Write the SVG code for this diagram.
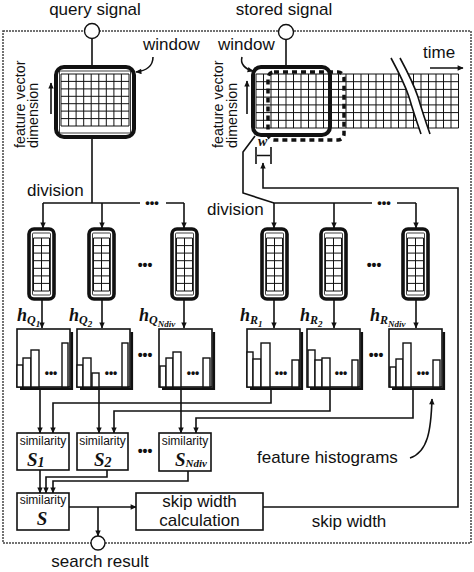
<svg xmlns="http://www.w3.org/2000/svg" xmlns:xlink="http://www.w3.org/1999/xlink" width="474" height="572" viewBox="0 0 474 572">
<style>
.lbl{font-family:"Liberation Sans",Arial,sans-serif;font-size:17px;fill:#111}
.fv{font-family:"Liberation Sans",Arial,sans-serif;font-size:14.3px;fill:#111}
.sim{font-family:"Liberation Sans",Arial,sans-serif;font-size:12px;fill:#111}
.ser{font-family:"Liberation Serif","Times New Roman",serif;font-weight:bold;font-style:italic;fill:#111}
.dots{font-family:"Liberation Sans",Arial,sans-serif;font-weight:bold;fill:#111}
.ln{fill:none;stroke:#111;stroke-width:1.6}
.box{fill:#fff;stroke:#111;stroke-width:1.6}
.grid{fill:none;stroke:#111;stroke-width:1}
.bar{fill:#fff;stroke:#111;stroke-width:1.4}
.shadow{fill:none;stroke:#111;stroke-width:2.6}
.frame{fill:none;stroke:#444;stroke-width:1.5;stroke-dasharray:2 1}
.port{fill:#fff;stroke:#111;stroke-width:1.4}
</style>
<defs>
<marker id="ah" viewBox="0 0 10 10" refX="9" refY="5" markerWidth="7" markerHeight="6" orient="auto" markerUnits="userSpaceOnUse"><path d="M0,0.5 L10,5 L0,9.5 z" fill="#111"/></marker>
<g id="strip">
<rect x="0" y="229" width="25" height="70" rx="5" fill="#fff" stroke="#111" stroke-width="3.6"/>
<rect x="3.5" y="233" width="18" height="62" rx="1" fill="none" stroke="#111" stroke-width="0.8"/>
<path class="grid" d="M4.5,238V291M12.5,238V291M20.5,238V291M4.5,238H20.5M4.5,245.6H20.5M4.5,253.1H20.5M4.5,260.7H20.5M4.5,268.3H20.5M4.5,275.9H20.5M4.5,283.4H20.5M4.5,291H20.5"/>
</g>
<g id="hbox">
<rect class="box" x="0" y="329" width="53" height="58"/>
<path class="shadow" d="M54.8,332V388.8H3"/>
</g>
</defs>
<rect width="474" height="572" fill="#fff"/>
<rect class="frame" x="3" y="31" width="468" height="512"/>

<g id="connectors">
<path class="ln" d="M92,39V75M92,137V203"/>
<path class="ln" d="M43,203H140M166,203H184"/>
<path class="ln" d="M43,203V228" marker-end="url(#ah)"/>
<path class="ln" d="M102,203V228" marker-end="url(#ah)"/>
<path class="ln" d="M184,203V228" marker-end="url(#ah)"/>
<path class="ln" d="M286,39.5V67"/>
<path class="ln" d="M255,136L243,152V193L274,203H372M397,203H416"/>
<path class="ln" d="M274,203V228" marker-end="url(#ah)"/>
<path class="ln" d="M334,203V228" marker-end="url(#ah)"/>
<path class="ln" d="M416,203V228" marker-end="url(#ah)"/>
<path class="ln" d="M42,299V328" marker-end="url(#ah)"/>
<path class="ln" d="M102,299V328" marker-end="url(#ah)"/>
<path class="ln" d="M184,299V328" marker-end="url(#ah)"/>
<path class="ln" d="M274,299V328" marker-end="url(#ah)"/>
<path class="ln" d="M334,299V328" marker-end="url(#ah)"/>
<path class="ln" d="M416,299V328" marker-end="url(#ah)"/>
<path class="ln" d="M40,389V433" marker-end="url(#ah)"/>
<path class="ln" d="M271,389V403H53V433" marker-end="url(#ah)"/>
<path class="ln" d="M99,389V433" marker-end="url(#ah)"/>
<path class="ln" d="M330,389V411H114V433" marker-end="url(#ah)"/>
<path class="ln" d="M181,389V433" marker-end="url(#ah)"/>
<path class="ln" d="M413,389V418H196V433" marker-end="url(#ah)"/>
<path class="ln" d="M40,470V493" marker-end="url(#ah)"/>
<path class="ln" d="M107,470V477H46V493" marker-end="url(#ah)"/>
<path class="ln" d="M188,471V481H53V493" marker-end="url(#ah)"/>
<path class="ln" d="M69,507H136" marker-end="url(#ah)"/>
<path class="ln" d="M98,507V536" marker-end="url(#ah)"/>
<path class="ln" d="M263,507H458V188H263V163" marker-end="url(#ah)"/>
<path class="ln" d="M153,57C153,66 146,71 136,72" marker-end="url(#ah)"/>
<path class="ln" d="M242,57C240,64 245,69 253,71" marker-end="url(#ah)"/>
<path class="ln" d="M410,458C428,452 431,430 432,399" marker-end="url(#ah)"/>
<path class="ln" d="M430,68H463" marker-end="url(#ah)"/>
<path class="ln" d="M51,114V83" marker-end="url(#ah)"/>
<path class="ln" d="M247,114V81" marker-end="url(#ah)"/>
</g>

<g id="query-signal">
<circle class="port" cx="92" cy="31" r="7.5"/>
<text class="lbl" x="95" y="15" text-anchor="middle">query signal</text>
</g>
<g id="stored-signal">
<circle class="port" cx="286" cy="32" r="7.5"/>
<text class="lbl" x="284" y="15" text-anchor="middle">stored signal</text>
</g>

<g id="query-window">
<rect x="56" y="67" width="78" height="70" rx="8" fill="#fff" stroke="#111" stroke-width="4"/>
<rect x="59.5" y="71" width="71" height="62" fill="none" stroke="#111" stroke-width="0.8"/>
<path class="grid" d="M61,74V126M68.6,74V126M76.1,74V126M83.7,74V126M91.2,74V126M98.8,74V126M106.3,74V126M113.9,74V126M121.4,74V126M129,74V126M61,74H129M61,81.4H129M61,88.9H129M61,96.3H129M61,103.7H129M61,111.1H129M61,118.6H129M61,126H129"/>
<text class="lbl" x="143" y="50">window</text>
<text class="fv" transform="translate(25,148) rotate(-90)">feature vector</text>
<text class="fv" transform="translate(38,148) rotate(-90)">dimension</text>
</g>

<g id="stored-window">
<path class="grid" d="M256,74V128M263.5,74V128M271,74V128M278.5,74V128M286,74V128M293.5,74V128M301,74V128M308.5,74V128M316,74V128M323.5,74V128M331,74V128M338.5,74V128M346,74V128M353.5,74V128M361,74V128M368.5,74V128M376,74V128M383.5,74V128M391,74V128M398.5,74V128M406,74V128M413.5,74V128M421,74V128M428.5,74V128M436,74V128M443.5,74V128M451,74V128M458.5,74V128M256,74H458.5M256,81.7H458.5M256,89.4H458.5M256,97.1H458.5M256,104.9H458.5M256,112.6H458.5M256,120.3H458.5M256,128H458.5"/>
<path d="M391,58Q404,82 409,97Q414,114 421,134L430,134Q423,114 418,97Q413,82 400,58Z" fill="#fff"/>
<path class="ln" d="M391,58Q404,82 409,97Q414,114 421,134M400,58Q413,82 418,97Q423,114 430,134"/>
<rect x="253" y="67" width="77" height="68" rx="8" fill="none" stroke="#111" stroke-width="4"/>
<rect x="268" y="72" width="76" height="68" rx="6" fill="none" stroke="#111" stroke-width="3.5" stroke-dasharray="5 4"/>
<text class="lbl" x="218" y="50">window</text>
<text class="lbl" x="423" y="58">time</text>
<text class="fv" transform="translate(223,148) rotate(-90)">feature vector</text>
<text class="fv" transform="translate(237,148) rotate(-90)">dimension</text>
<path class="ln" d="M256,147V164M271,147V164M257,155.5H270" stroke-width="1.3"/>
<text class="ser" x="258" y="146" font-size="14">w</text>
</g>

<g id="division-labels">
<text class="lbl" x="27" y="196">division</text>
<text class="lbl" x="207" y="215">division</text>
<text class="dots" x="152" y="207" font-size="13" text-anchor="middle">•••</text>
<text class="dots" x="384" y="207" font-size="13" text-anchor="middle">•••</text>
</g>

<g id="strip-q1"><use xlink:href="#strip" x="29"/></g>
<g id="strip-q2"><use xlink:href="#strip" x="89"/></g>
<g id="strip-qn"><use xlink:href="#strip" x="172"/></g>
<text class="dots" x="145" y="270" font-size="14" text-anchor="middle">•••</text>
<g id="strip-r1"><use xlink:href="#strip" x="262"/></g>
<g id="strip-r2"><use xlink:href="#strip" x="321"/></g>
<g id="strip-rn"><use xlink:href="#strip" x="403"/></g>
<text class="dots" x="374" y="270" font-size="14" text-anchor="middle">•••</text>

<g id="hist-q1">
<use xlink:href="#hbox" x="17"/>
<rect class="bar" x="17" y="365" width="6" height="22"/><rect class="bar" x="23" y="358" width="8" height="29"/><rect class="bar" x="31" y="350" width="8" height="37"/><rect class="bar" x="62" y="343" width="6" height="44"/>
<text class="dots" x="51" y="377" font-size="12" text-anchor="middle">•••</text>
<text class="ser" x="17" y="321" font-size="18">h<tspan font-size="12" dy="3">Q</tspan><tspan font-size="9" dy="3">1</tspan></text>
</g>
<g id="hist-q2">
<use xlink:href="#hbox" x="77"/>
<rect class="bar" x="77" y="365" width="6" height="22"/><rect class="bar" x="83" y="358" width="8" height="29"/><rect class="bar" x="92" y="373" width="7" height="14"/><rect class="bar" x="122" y="343" width="6" height="44"/>
<text class="dots" x="111" y="377" font-size="12" text-anchor="middle">•••</text>
<text class="ser" x="69" y="321" font-size="18">h<tspan font-size="12" dy="3">Q</tspan><tspan font-size="9" dy="3">2</tspan></text>
</g>
<text class="dots" x="145" y="360" font-size="14" text-anchor="middle">•••</text>
<g id="hist-qn">
<use xlink:href="#hbox" x="159"/>
<rect class="bar" x="160" y="366" width="6" height="21"/><rect class="bar" x="166" y="358" width="7" height="29"/><rect class="bar" x="173" y="352" width="8" height="35"/><rect class="bar" x="203" y="358" width="7" height="29"/>
<text class="dots" x="193" y="377" font-size="12" text-anchor="middle">•••</text>
<text class="ser" x="139" y="321" font-size="18">h<tspan font-size="12" dy="3">Q</tspan><tspan font-size="9" dy="3">Ndiv</tspan></text>
</g>
<g id="hist-r1">
<use xlink:href="#hbox" x="247"/>
<rect class="bar" x="247" y="352" width="6" height="35"/><rect class="bar" x="253" y="359" width="8" height="28"/><rect class="bar" x="261" y="343" width="9" height="44"/><rect class="bar" x="292" y="360" width="7" height="27"/>
<text class="dots" x="281" y="377" font-size="12" text-anchor="middle">•••</text>
<text class="ser" x="240" y="321" font-size="18">h<tspan font-size="12" dy="3">R</tspan><tspan font-size="9" dy="3">1</tspan></text>
</g>
<g id="hist-r2">
<use xlink:href="#hbox" x="307"/>
<rect class="bar" x="308" y="350" width="7" height="37"/><rect class="bar" x="315" y="360" width="7" height="27"/><rect class="bar" x="322" y="358" width="8" height="29"/><rect class="bar" x="352" y="360" width="6" height="27"/>
<text class="dots" x="341" y="377" font-size="12" text-anchor="middle">•••</text>
<text class="ser" x="300" y="321" font-size="18">h<tspan font-size="12" dy="3">R</tspan><tspan font-size="9" dy="3">2</tspan></text>
</g>
<text class="dots" x="376" y="360" font-size="14" text-anchor="middle">•••</text>
<g id="hist-rn">
<use xlink:href="#hbox" x="389"/>
<rect class="bar" x="390" y="367" width="6" height="20"/><rect class="bar" x="396" y="359" width="7" height="28"/><rect class="bar" x="403" y="343" width="8" height="44"/><rect class="bar" x="433" y="360" width="7" height="27"/>
<text class="dots" x="423" y="377" font-size="12" text-anchor="middle">•••</text>
<text class="ser" x="370" y="321" font-size="18">h<tspan font-size="12" dy="3">R</tspan><tspan font-size="9" dy="3">Ndiv</tspan></text>
</g>
<text class="lbl" x="257" y="463">feature histograms</text>

<g id="sim-1">
<rect class="box" x="17" y="433" width="52" height="37"/>
<text class="sim" x="43" y="445" text-anchor="middle">similarity</text>
<text class="ser" x="27" y="466" font-size="19">S<tspan font-size="14" dy="1">1</tspan></text>
</g>
<g id="sim-2">
<rect class="box" x="77" y="433" width="51" height="37"/>
<text class="sim" x="102.5" y="445" text-anchor="middle">similarity</text>
<text class="ser" x="94" y="466" font-size="19">S<tspan font-size="14" dy="1">2</tspan></text>
</g>
<text class="dots" x="145" y="456" font-size="14" text-anchor="middle">•••</text>
<g id="sim-n">
<rect class="box" x="159" y="433" width="52" height="38"/>
<text class="sim" x="185" y="445" text-anchor="middle">similarity</text>
<text class="ser" x="175" y="466" font-size="19">S<tspan font-size="11" dy="1">Ndiv</tspan></text>
</g>
<g id="sim-total">
<rect class="box" x="17" y="493" width="52" height="37"/>
<text class="sim" x="43" y="504" text-anchor="middle">similarity</text>
<text class="ser" x="42" y="525" font-size="19" text-anchor="middle">S</text>
</g>
<g id="skip-calc">
<rect class="box" x="136" y="493" width="127" height="37"/>
<text class="lbl" x="199.5" y="507" text-anchor="middle" font-size="16">skip width</text>
<text class="lbl" x="199.5" y="525.5" text-anchor="middle" font-size="16">calculation</text>
</g>
<text class="lbl" x="349" y="527" text-anchor="middle">skip width</text>
<g id="search-result">
<circle class="port" cx="98" cy="543" r="7"/>
<text class="lbl" x="100" y="567" text-anchor="middle">search result</text>
</g>
</svg>
